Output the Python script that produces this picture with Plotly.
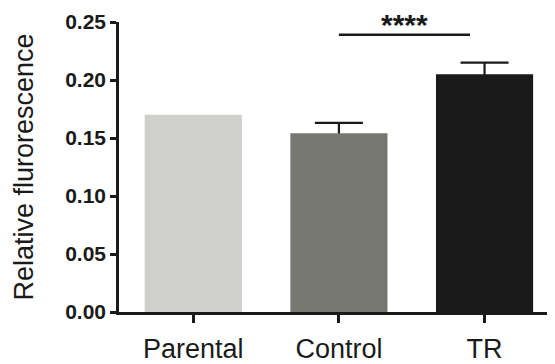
import plotly.graph_objects as go

categories = ["Parental", "Control", "TR"]
values = [0.170, 0.154, 0.205]
errors = [None, 0.009, 0.010]
colors = ["#cfd0cb", "#787873", "#1a1a1a"]
y_ticks = [0.00, 0.05, 0.10, 0.15, 0.20, 0.25]
sig_from, sig_to, sig_y, sig_text = 1.0, 1.9, 0.239, "****"

FONT = "Liberation Sans, Arial"
INK = "#1a1a1a"

fig = go.Figure()
# error bars first (symmetric, lower half hidden behind the bars)
for cat, v, e in zip(categories, values, errors):
    if e is None:
        continue
    fig.add_trace(go.Bar(x=[cat], y=[v], width=0.667, showlegend=False, hoverinfo="skip",
                         marker=dict(color="rgba(0,0,0,0)", line=dict(width=0)),
                         error_y=dict(type="data", array=[e], color=INK, thickness=2.2, width=24)))
for cat, v, c in zip(categories, values, colors):
    fig.add_trace(go.Bar(x=[cat], y=[v], width=0.667, showlegend=False,
                         marker=dict(color=c, line=dict(width=0))))

fig.add_shape(type="line", xref="x", yref="y", x0=sig_from, x1=sig_to, y0=sig_y, y1=sig_y,
              line=dict(color=INK, width=2.5))
fig.add_annotation(x=(sig_from + sig_to) / 2, y=sig_y, xref="x", yref="y", text="<b>" + sig_text + "</b>",
                   showarrow=False, yanchor="bottom", yshift=-8,
                   font=dict(family=FONT, size=30, color=INK))

# page body has an 8px margin: offset figure so plot area lands where the reference has it
fig.update_layout(
    width=547, height=356,
    margin=dict(l=111, r=2, t=14, b=52),
    plot_bgcolor="white", paper_bgcolor="white",
    barmode="overlay",
    font=dict(family=FONT, color=INK),
)
fig.update_xaxes(
    type="category", categoryorder="array", categoryarray=categories,
    range=[-0.51, 2.47], automargin=False,
    showline=True, linecolor=INK, linewidth=2.5,
    ticks="outside", ticklen=8, tickwidth=2.5, tickcolor=INK,
    ticklabelstandoff=3,
    tickfont=dict(size=27, family=FONT, color=INK),
    showgrid=False, zeroline=False,
)
fig.update_yaxes(
    range=[0, 0.25], tickvals=y_ticks, ticktext=["<b>%.2f</b>" % t for t in y_ticks],
    automargin=False,
    showline=True, linecolor=INK, linewidth=2.5,
    ticks="outside", ticklen=6, tickwidth=2.5, tickcolor=INK,
    tickfont=dict(size=21, family=FONT, color=INK),
    title=dict(text="Relative flurorescence", font=dict(size=27, family=FONT, color=INK),
               standoff=24),
    showgrid=False, zeroline=False,
)

fig.write_html("out.html")
